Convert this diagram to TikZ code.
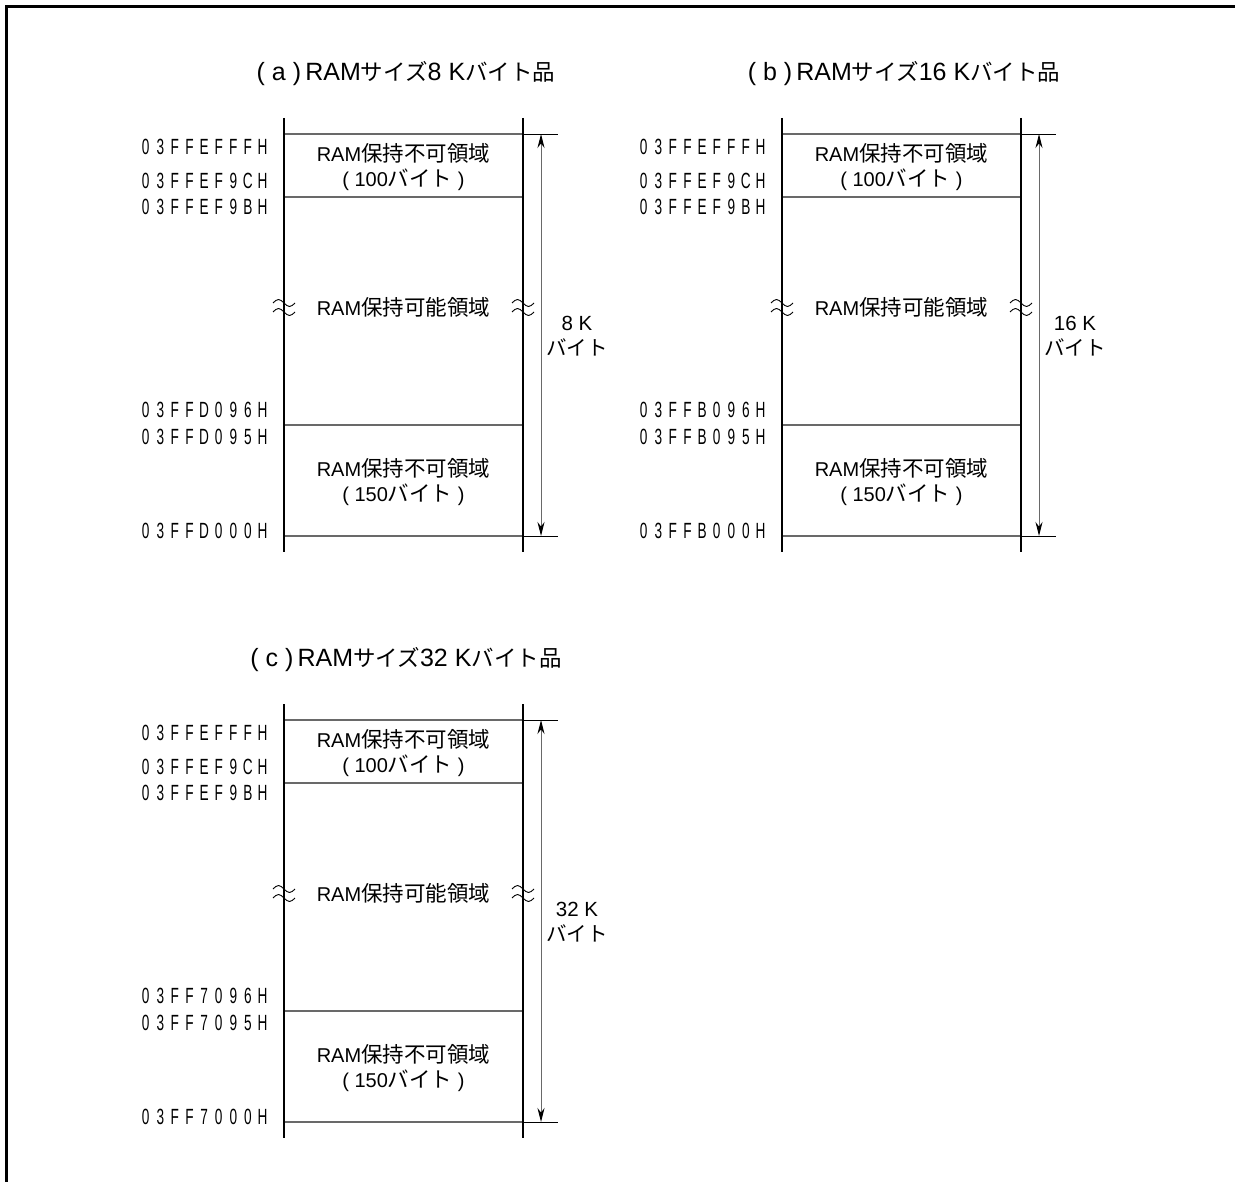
\documentclass[tikz,border=0pt]{standalone}
\usepackage{fontspec}
\setmainfont{Liberation Sans}
\newfontfamily\jpfont{Noto Sans CJK JP}
\newfontfamily\addrfont[FakeStretch=0.62]{Liberation Sans}
\usetikzlibrary{positioning,calc,arrows.meta}
\definecolor{linegray}{RGB}{105,105,105}
% address digits set in fixed cells
\newcommand\addrspaced[1]{\addrloop#1\relax}
\def\addrloop#1{\ifx#1\relax\else\makebox[14.6pt]{#1}\expandafter\addrloop\fi}
\newcommand\tj[1]{{\jpfont\fontsize{22.5}{25}\selectfont#1}}
\newcommand\bj[1]{{\jpfont\fontsize{21.5}{25}\selectfont#1}}

\begin{document}
\begin{tikzpicture}[x=1pt,y=-1pt,
 memline/.style={line width=2.6pt},
 bound/.style={draw=linegray,line width=1.3pt},
 ext/.style={line width=0.9pt},
 dim/.style={draw=linegray,line width=1pt,{Stealth[length=14pt,width=7pt,color=black]}-{Stealth[length=14pt,width=7pt,color=black]}},
 addr/.style={anchor=east,inner sep=0pt,font=\addrfont\fontsize{22}{22}\selectfont},
 area/.style={align=center,inner sep=0pt,font=\fontsize{20}{25}\selectfont},
 title/.style={inner sep=0pt,font=\fontsize{25}{25}\selectfont},
 wave/.style={line width=0.9pt}]
\useasboundingbox (0,0) rectangle (1235,1182);
\draw[line width=3pt] (1235,6.5) -- (6.5,6.5) -- (6.5,1182);
\foreach \p/\dx/\dy/\kb/\lo in {a/0/0/8/D,b/498/0/16/B,c/0/586/32/7}{
\begin{scope}[shift={(\dx,\dy)}]
\node[title](\p-title) at (406,74){( \p\ )\,RAM\tj{サイズ}\kb\ K\tj{バイト品}};
\coordinate (\p-L0) at (284,118); \coordinate (\p-L1) at (284,552);
\coordinate (\p-R0) at (523,118); \coordinate (\p-R1) at (523,552);
\coordinate (\p-top) at (541,134); \coordinate (\p-bot) at (541,536);
\foreach \yy in {134,197,425,536} \draw[bound] (284,\yy) -- (523,\yy);
\draw[memline] (\p-L0) -- (\p-L1); \draw[memline] (\p-R0) -- (\p-R1);
\draw[ext] (523,134) -- (558,134); \draw[ext] (523,536) -- (558,536);
\draw[dim] (\p-top) -- (\p-bot);
\node[area](\p-ng1) at (403.5,167.5){RAM\bj{保持不可領域}\\( 100\bj{バイト}\ )};
\node[area](\p-ok) at (403.5,307){RAM\bj{保持可能領域}};
\node[area](\p-ng2) at (403.5,482.5){RAM\bj{保持不可領域}\\( 150\bj{バイト}\ )};
\node[area,font=\fontsize{20.5}{25}\selectfont](\p-size) at (577,336){\kb\ K\\{\jpfont\fontsize{20.5}{25}\selectfont バイト}};
\node[addr](\p-a1) at (270,147){\addrspaced{03FFEFFFH}};
\node[addr](\p-a2) at (270,181){\addrspaced{03FFEF9CH}};
\node[addr](\p-a3) at (270,207){\addrspaced{03FFEF9BH}};
\node[addr](\p-a4) at (270,410){\addrspaced{03FF\lo096H}};
\node[addr](\p-a5) at (270,437){\addrspaced{03FF\lo095H}};
\node[addr](\p-a6) at (270,531){\addrspaced{03FF\lo000H}};
% break marks on both walls
\foreach \xx in {284,523}{
 \draw[wave] (\xx-11,303) sin (\xx-5.5,299.5) cos (\xx,303) sin (\xx+5.5,306.5) cos (\xx+11,303);
 \draw[wave] (\xx-11,312) sin (\xx-5.5,308.5) cos (\xx,312) sin (\xx+5.5,315.5) cos (\xx+11,312);}
\end{scope}}
\end{tikzpicture}
\end{document}
